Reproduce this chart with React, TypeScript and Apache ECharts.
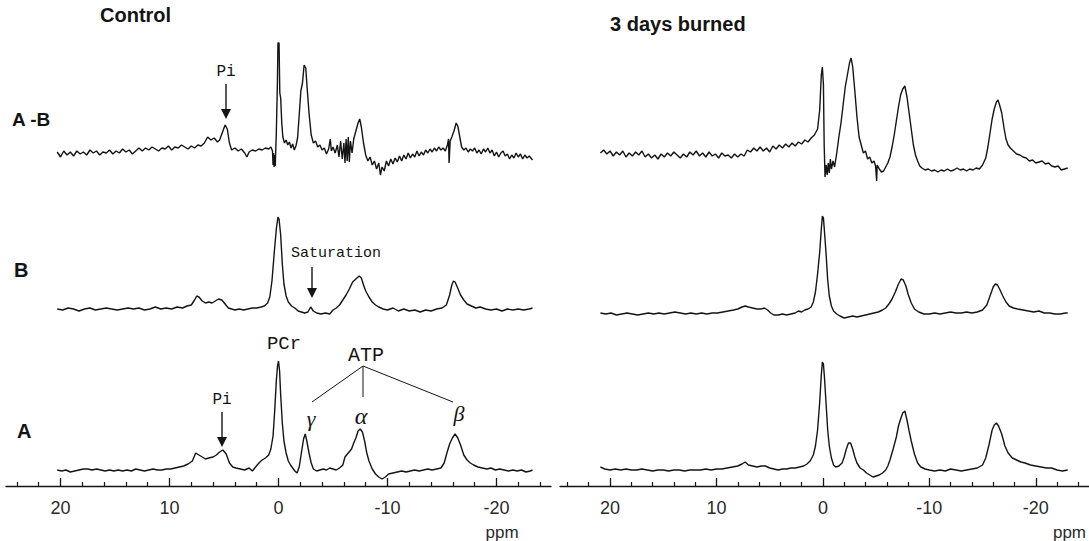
import React, { useEffect, useRef } from 'react';
import * as echarts from 'echarts';

// Tick values (ppm)
const majorTicks = [20, 10, 0, -10, -20];
const minorTicks = [24, 22, 18, 16, 14, 12, 8, 6, 4, 2, -2, -4, -6, -8, -12, -14, -16, -18, -22, -24];

// Control spectra: [ppm, intensity]
const controlAB: number[][] = [
  [20.3, 1], [20.0, -4], [19.7, 2], [19.4, -2], [19.1, 1], [18.8, -3], [18.5, 2], [18.2, -1], [17.9, 1], [17.6, -2], [17.3, 3], [17.0, 0], [16.7, 2], [16.4, -2], [16.1, 1], [15.8, 0], [15.5, 3], [15.2, -1], [14.9, 2], [14.6, 0], [14.3, 4], [14.0, 1], [13.7, 3], [13.4, -1], [13.1, 2], [12.8, 5], [12.5, 2], [12.2, 5], [11.9, 3], [11.6, 6], [11.3, 4], [11.0, 2], [10.7, 5], [10.4, 4], [10.1, 7], [9.8, 3], [9.5, 6], [9.2, 5], [8.9, 8], [8.6, 6], [8.3, 4], [8.0, 7], [7.7, 5], [7.4, 8], [7.1, 7], [6.8, 10], [6.5, 16], [6.2, 13], [5.9, 15], [5.6, 11], [5.4, 13], [5.1, 22], [4.9, 28], [4.7, 24], [4.5, 10], [4.3, 3], [4.0, 5], [3.7, 2], [3.4, 4], [3.1, 0], [2.9, -4], [2.7, 1], [2.4, 3], [2.1, 2], [1.8, 4], [1.5, 3], [1.2, 5], [0.9, 4], [0.7, 6], [0.55, 2], [0.5, -12], [0.45, 0], [0.4, -14], [0.35, -2], [0.3, -13], [0.2, 20], [0.1, 70], [0.05, 110], [-0.05, 110], [-0.12, 60], [-0.2, 55], [-0.3, 30], [-0.4, 16], [-0.55, 10], [-0.7, 13], [-0.85, 8], [-1.0, 11], [-1.15, 5], [-1.3, 9], [-1.45, 3], [-1.6, 7], [-1.75, 15], [-1.9, 38], [-2.05, 62], [-2.2, 70], [-2.35, 88], [-2.5, 85], [-2.65, 62], [-2.8, 40], [-3.0, 18], [-3.2, 10], [-3.4, 12], [-3.6, 6], [-3.8, 8], [-4.0, 3], [-4.2, 5], [-4.4, -1], [-4.6, 4], [-4.75, 14], [-4.85, 2], [-5.0, 6], [-5.2, 0], [-5.4, 8], [-5.55, -4], [-5.7, 12], [-5.85, -6], [-6.0, 10], [-6.1, -10], [-6.2, 14], [-6.3, -8], [-6.4, 16], [-6.5, -9], [-6.6, 12], [-6.75, 0], [-6.9, 14], [-7.1, 22], [-7.3, 30], [-7.45, 34], [-7.6, 26], [-7.8, 10], [-8.0, -2], [-8.2, -8], [-8.4, -4], [-8.6, -12], [-8.8, -8], [-9.0, -16], [-9.2, -10], [-9.35, -22], [-9.5, -14], [-9.7, -18], [-9.9, -8], [-10.1, -13], [-10.3, -6], [-10.5, -11], [-10.7, -5], [-10.9, -9], [-11.1, -3], [-11.3, -8], [-11.5, -2], [-11.7, -6], [-11.9, 0], [-12.1, -5], [-12.3, -1], [-12.5, -4], [-12.7, 2], [-12.9, -3], [-13.1, 1], [-13.3, -2], [-13.5, 3], [-13.7, 0], [-13.9, 4], [-14.1, 1], [-14.3, 5], [-14.5, 2], [-14.7, 6], [-14.9, 3], [-15.1, 5], [-15.3, 2], [-15.5, 8], [-15.6, 14], [-15.65, -10], [-15.75, 12], [-15.9, 16], [-16.1, 22], [-16.3, 30], [-16.45, 27], [-16.6, 18], [-16.8, 6], [-17.0, 3], [-17.2, 5], [-17.4, 1], [-17.6, 4], [-17.8, 2], [-18.0, 5], [-18.2, 0], [-18.4, 3], [-18.6, -1], [-18.8, 4], [-19.0, 1], [-19.2, 5], [-19.4, 0], [-19.6, 3], [-19.8, -3], [-20.0, 1], [-20.2, -4], [-20.4, 0], [-20.6, 2], [-20.8, -3], [-21.0, -1], [-21.2, -6], [-21.4, -2], [-21.6, -5], [-21.8, 0], [-22.0, -4], [-22.2, -1], [-22.4, -6], [-22.6, -2], [-22.8, -5], [-23.0, -3], [-23.3, -7]
];

const controlB: number[][] = [
  [20.3, 0], [19.8, -1], [19.3, 1], [18.8, 0], [18.3, -2], [17.8, 0], [17.3, 1], [16.8, -1], [16.3, 0], [15.8, 1], [15.3, 0], [14.8, -1], [14.3, 0], [13.8, 1], [13.3, 0], [12.8, 1], [12.3, -1], [11.8, 0], [11.3, 2], [10.8, 0], [10.3, 1], [9.8, 0], [9.3, 2], [8.8, 1], [8.4, 3], [8.0, 4], [7.7, 9], [7.5, 13], [7.3, 12], [7.0, 8], [6.7, 6], [6.4, 7], [6.1, 6], [5.8, 8], [5.5, 10], [5.2, 9], [4.9, 5], [4.6, 1], [4.3, 0], [4.0, -1], [3.6, 0], [3.2, -1], [2.8, 0], [2.4, 1], [2.0, 1], [1.6, 2], [1.3, 3], [1.0, 6], [0.8, 12], [0.6, 28], [0.4, 55], [0.2, 80], [0.05, 92], [-0.05, 90], [-0.2, 74], [-0.35, 45], [-0.5, 25], [-0.7, 13], [-0.9, 7], [-1.2, 3], [-1.5, 1], [-1.8, -2], [-2.1, -3], [-2.4, -4], [-2.7, -3], [-2.95, 2], [-3.2, -2], [-3.5, -4], [-3.9, -5], [-4.3, -4], [-4.7, -5], [-5.0, -1], [-5.3, 1], [-5.6, 4], [-5.9, 9], [-6.2, 14], [-6.5, 20], [-6.8, 27], [-7.0, 29], [-7.2, 31], [-7.4, 33], [-7.6, 31], [-7.8, 24], [-8.0, 18], [-8.3, 12], [-8.6, 7], [-8.9, 4], [-9.2, 2], [-9.6, 0], [-10.0, -1], [-10.5, 1], [-11.0, -2], [-11.5, 0], [-12.0, -2], [-12.5, -1], [-13.0, -3], [-13.5, -1], [-14.0, -2], [-14.5, 0], [-15.0, 1], [-15.4, 4], [-15.7, 14], [-15.9, 24], [-16.05, 28], [-16.2, 27], [-16.4, 22], [-16.7, 14], [-17.0, 9], [-17.3, 5], [-17.7, 3], [-18.1, 1], [-18.5, 2], [-19.0, 0], [-19.5, -1], [-20.0, 0], [-20.5, -2], [-21.0, 0], [-21.5, -1], [-22.0, 0], [-22.5, -1], [-23.0, 0], [-23.3, 1]
];

const controlA: number[][] = [
  [20.3, 1], [19.9, 0], [19.5, 1], [19.1, -1], [18.7, 0], [18.3, 1], [17.9, 2], [17.5, 2], [17.1, 1], [16.7, 2], [16.3, 1], [15.9, 0], [15.5, 1], [15.1, 0], [14.7, 1], [14.3, 0], [13.9, 1], [13.5, 0], [13.1, 2], [12.7, 1], [12.3, 0], [11.9, 1], [11.5, 2], [11.1, 1], [10.7, 1], [10.3, 2], [9.9, 2], [9.5, 3], [9.1, 4], [8.7, 5], [8.3, 7], [7.9, 10], [7.6, 18], [7.3, 16], [7.0, 14], [6.7, 12], [6.4, 13], [6.0, 14], [5.7, 16], [5.4, 19], [5.1, 21], [4.8, 17], [4.5, 8], [4.2, 4], [3.9, 3], [3.5, 2], [3.1, 1], [2.7, 3], [2.4, 0], [2.1, 4], [1.8, 8], [1.5, 11], [1.2, 13], [0.9, 16], [0.7, 22], [0.5, 35], [0.35, 60], [0.2, 90], [0.1, 104], [0.0, 110], [-0.1, 100], [-0.2, 76], [-0.35, 48], [-0.5, 30], [-0.7, 18], [-0.9, 10], [-1.1, 6], [-1.3, 3], [-1.5, 0], [-1.7, -2], [-1.9, 4], [-2.1, 18], [-2.3, 32], [-2.45, 37], [-2.6, 30], [-2.8, 18], [-3.0, 8], [-3.2, 2], [-3.5, 0], [-3.8, 1], [-4.1, 2], [-4.4, 1], [-4.7, 3], [-5.0, 2], [-5.3, 1], [-5.6, 3], [-5.9, 6], [-6.1, 14], [-6.4, 18], [-6.7, 22], [-6.9, 28], [-7.1, 33], [-7.3, 40], [-7.5, 42], [-7.7, 39], [-7.9, 30], [-8.1, 18], [-8.3, 10], [-8.6, 2], [-8.9, -3], [-9.2, -6], [-9.5, -8], [-9.8, -6], [-10.1, -3], [-10.5, -2], [-10.9, -1], [-11.3, 0], [-11.7, -1], [-12.1, 0], [-12.5, 1], [-12.9, 0], [-13.3, 1], [-13.7, 2], [-14.1, 1], [-14.5, 2], [-14.9, 3], [-15.2, 8], [-15.45, 18], [-15.7, 27], [-15.95, 33], [-16.2, 37], [-16.45, 33], [-16.7, 26], [-17.0, 16], [-17.3, 11], [-17.6, 8], [-17.9, 6], [-18.3, 4], [-18.7, 3], [-19.1, 2], [-19.5, 3], [-19.9, 1], [-20.3, 2], [-20.7, 1], [-21.1, 0], [-21.5, 1], [-21.9, 0], [-22.3, 1], [-22.7, -1], [-23.1, 0], [-23.3, 1]
];

// 3 days burned spectra: [ppm, intensity]
const burnedAB: number[][] = [
  [20.9, 2], [20.6, 5], [20.3, 1], [20.0, 4], [19.7, -1], [19.4, 3], [19.1, 0], [18.8, 4], [18.5, -2], [18.2, 2], [17.9, -1], [17.6, 3], [17.3, 0], [17.0, 4], [16.7, -2], [16.4, 1], [16.1, -3], [15.8, 0], [15.5, -4], [15.2, 1], [14.9, -2], [14.6, 2], [14.3, -1], [14.0, 3], [13.7, 0], [13.4, -3], [13.1, 1], [12.8, -2], [12.5, 3], [12.2, 0], [11.9, 4], [11.6, -1], [11.3, 2], [11.0, -2], [10.7, 3], [10.4, -1], [10.1, 1], [9.8, -3], [9.5, 2], [9.2, -1], [8.9, 0], [8.6, -3], [8.3, 1], [8.0, -2], [7.7, 1], [7.4, -1], [7.1, 5], [6.8, 3], [6.5, 7], [6.2, 4], [5.9, 8], [5.6, 4], [5.3, 7], [5.0, 3], [4.7, 9], [4.4, 6], [4.1, 10], [3.8, 7], [3.5, 11], [3.2, 8], [2.9, 12], [2.6, 9], [2.3, 13], [2.0, 11], [1.7, 15], [1.4, 13], [1.1, 17], [0.8, 20], [0.5, 26], [0.3, 45], [0.15, 80], [0.05, 88], [-0.05, 70], [-0.12, 10], [-0.2, -22], [-0.3, -10], [-0.4, -20], [-0.5, -8], [-0.6, -18], [-0.7, -4], [-0.8, -14], [-0.95, -6], [-1.1, -12], [-1.3, 2], [-1.5, 18], [-1.7, 32], [-1.9, 50], [-2.1, 68], [-2.3, 80], [-2.5, 92], [-2.65, 97], [-2.8, 88], [-3.0, 64], [-3.2, 38], [-3.4, 18], [-3.6, 10], [-3.8, 2], [-4.0, 4], [-4.2, -4], [-4.4, -2], [-4.6, -8], [-4.8, -6], [-4.95, -11], [-5.05, -26], [-5.1, -10], [-5.3, -14], [-5.5, -17], [-5.7, -16], [-5.9, -12], [-6.1, -8], [-6.3, -2], [-6.5, 8], [-6.7, 20], [-6.9, 34], [-7.1, 48], [-7.3, 60], [-7.5, 66], [-7.7, 69], [-7.9, 58], [-8.1, 42], [-8.3, 26], [-8.5, 10], [-8.7, 0], [-8.9, -6], [-9.1, -11], [-9.3, -13], [-9.6, -15], [-9.9, -14], [-10.2, -16], [-10.5, -15], [-10.8, -17], [-11.1, -15], [-11.4, -16], [-11.7, -14], [-12.0, -16], [-12.3, -15], [-12.6, -13], [-12.9, -15], [-13.2, -14], [-13.5, -16], [-13.8, -14], [-14.1, -15], [-14.4, -13], [-14.7, -14], [-15.0, -10], [-15.3, -3], [-15.5, 8], [-15.7, 22], [-15.9, 36], [-16.1, 46], [-16.3, 53], [-16.45, 55], [-16.6, 50], [-16.8, 42], [-17.0, 28], [-17.2, 16], [-17.4, 10], [-17.6, 7], [-17.8, 5], [-18.0, 3], [-18.2, 1], [-18.5, 0], [-18.8, -2], [-19.1, -3], [-19.4, -6], [-19.7, -5], [-20.0, -8], [-20.3, -7], [-20.6, -6], [-20.9, -9], [-21.2, -8], [-21.5, -11], [-21.8, -12], [-22.1, -11], [-22.4, -15], [-22.7, -14], [-23.0, -13]
];

const burnedB: number[][] = [
  [20.9, 1], [20.4, 0], [19.9, 1], [19.4, -1], [18.9, 0], [18.4, 1], [17.9, 0], [17.4, -1], [16.9, 0], [16.4, 1], [15.9, 0], [15.4, 1], [14.9, 0], [14.4, 1], [13.9, 2], [13.4, 1], [12.9, 0], [12.4, 1], [11.9, 0], [11.4, 1], [10.9, 0], [10.4, 1], [9.9, 1], [9.4, 2], [8.9, 3], [8.4, 4], [8.0, 5], [7.6, 7], [7.3, 8], [7.0, 7], [6.6, 6], [6.2, 5], [5.8, 5], [5.5, 6], [5.2, 4], [4.9, 1], [4.6, -1], [4.2, -1], [3.8, 0], [3.4, -1], [3.0, 0], [2.6, 1], [2.3, 3], [2.0, 2], [1.7, 4], [1.4, 5], [1.1, 7], [0.9, 12], [0.7, 22], [0.5, 40], [0.3, 62], [0.15, 85], [0.05, 98], [-0.05, 96], [-0.15, 82], [-0.3, 60], [-0.45, 34], [-0.6, 18], [-0.8, 8], [-1.0, 3], [-1.3, 0], [-1.6, -2], [-2.0, -4], [-2.4, -3], [-2.8, -2], [-3.2, -3], [-3.6, -2], [-4.0, -1], [-4.4, 0], [-4.8, 1], [-5.2, 2], [-5.6, 4], [-5.9, 6], [-6.2, 10], [-6.5, 15], [-6.8, 22], [-7.1, 30], [-7.35, 35], [-7.55, 34], [-7.8, 28], [-8.0, 20], [-8.3, 11], [-8.6, 5], [-9.0, 2], [-9.5, 0], [-10.0, 0], [-10.5, 1], [-11.0, 0], [-11.5, 1], [-12.0, 2], [-12.5, 1], [-13.0, 1], [-13.5, 2], [-14.0, 1], [-14.5, 2], [-15.0, 4], [-15.4, 9], [-15.7, 18], [-16.0, 27], [-16.2, 30], [-16.4, 29], [-16.6, 25], [-16.9, 18], [-17.2, 12], [-17.5, 8], [-17.9, 6], [-18.3, 5], [-18.8, 4], [-19.3, 3], [-19.8, 2], [-20.3, 3], [-20.8, 1], [-21.3, 1], [-21.8, 0], [-22.3, 0], [-22.8, 1], [-23.0, 1]
];

const burnedA: number[][] = [
  [20.9, 3], [20.5, 1], [20.0, 0], [19.5, 1], [19.0, 0], [18.5, 1], [18.0, 0], [17.5, 0], [17.0, 1], [16.5, 0], [16.0, -1], [15.5, 0], [15.0, 0], [14.5, -1], [14.0, 0], [13.5, 0], [13.0, -1], [12.5, 0], [12.0, 0], [11.5, 0], [11.0, 1], [10.5, 0], [10.0, 1], [9.5, 1], [9.0, 2], [8.5, 3], [8.0, 4], [7.6, 6], [7.3, 8], [7.0, 5], [6.6, 4], [6.2, 3], [5.8, 4], [5.4, 4], [5.0, 2], [4.6, 1], [4.2, 0], [3.8, 1], [3.4, 1], [3.0, 2], [2.6, 2], [2.2, 3], [1.8, 4], [1.5, 6], [1.2, 9], [0.9, 15], [0.7, 24], [0.5, 40], [0.3, 68], [0.15, 95], [0.05, 108], [-0.05, 106], [-0.15, 92], [-0.3, 66], [-0.45, 40], [-0.6, 24], [-0.8, 12], [-1.0, 5], [-1.2, 3], [-1.5, 4], [-1.8, 7], [-2.0, 13], [-2.2, 21], [-2.4, 27], [-2.6, 27], [-2.8, 21], [-3.0, 13], [-3.2, 7], [-3.5, 2], [-3.8, 0], [-4.1, -3], [-4.4, -5], [-4.7, -7], [-5.0, -6], [-5.3, -5], [-5.6, -3], [-5.9, 0], [-6.1, 4], [-6.3, 10], [-6.6, 21], [-6.9, 33], [-7.1, 44], [-7.3, 51], [-7.5, 57], [-7.7, 59], [-7.9, 50], [-8.1, 39], [-8.3, 29], [-8.6, 16], [-8.9, 7], [-9.2, 3], [-9.6, 1], [-10.0, 0], [-10.5, -1], [-11.0, 0], [-11.5, -1], [-12.0, 1], [-12.5, 0], [-13.0, -1], [-13.5, 0], [-14.0, 1], [-14.5, 2], [-15.0, 5], [-15.3, 12], [-15.6, 25], [-15.9, 40], [-16.1, 45], [-16.3, 47], [-16.5, 44], [-16.8, 36], [-17.1, 24], [-17.4, 17], [-17.8, 12], [-18.2, 10], [-18.6, 8], [-19.0, 7], [-19.5, 5], [-20.0, 4], [-20.5, 3], [-21.0, 2], [-21.5, 2], [-22.0, 0], [-22.5, -1], [-23.0, 0]
];

const panelTitles = ['Control', '3 days burned'];
const rowLabels = ['A -B', 'B', 'A'];

const INK = '#141414';

export default function App() {
  const ref = useRef<HTMLDivElement>(null);
  useEffect(() => {
    if (!ref.current) return;
    const chart = echarts.init(ref.current, null, { renderer: 'svg' });

    const leftX = { min: -25, max: 25, left: 6, width: 545 };
    const rightX = { min: -25, max: 24.7, left: 560, width: 542 };
    const leftBase = [153, 309, 471];
    const rightBase = [155, 314, 470];
    const leftSpectra = [controlAB, controlB, controlA];
    const rightSpectra = [burnedAB, burnedB, burnedA];

    const grid: any[] = [
      { left: leftX.left, width: leftX.width, top: 20, height: 466 },
      { left: rightX.left, width: rightX.width, top: 20, height: 466 },
    ];
    const xAxis: any[] = [];
    const yAxis: any[] = [];
    const series: any[] = [];

    const axisPair = (gi: number, r: any) => {
      xAxis.push({
        type: 'value', gridIndex: gi, min: r.min, max: r.max, inverse: true, position: 'bottom',
        axisLine: { show: true, lineStyle: { color: INK, width: 1.3 } },
        axisTick: { show: true, inside: true, length: 8, customValues: majorTicks, lineStyle: { color: INK, width: 1.3 } },
        axisLabel: { show: true, customValues: majorTicks, margin: 13, fontSize: 18, color: '#2a2a2a', fontFamily: 'Liberation Sans' },
        splitLine: { show: false },
      });
      xAxis.push({
        type: 'value', gridIndex: gi, min: r.min, max: r.max, inverse: true, position: 'bottom',
        axisLine: { show: false },
        axisTick: { show: true, inside: true, length: 4, customValues: minorTicks, lineStyle: { color: INK, width: 1.2 } },
        axisLabel: { show: false },
        splitLine: { show: false },
      });
      yAxis.push({ type: 'value', gridIndex: gi, min: 0, max: 1, show: false });
    };
    axisPair(0, leftX);
    axisPair(1, rightX);

    const addSpectra = (r: any, bases: number[], spectra: number[][][]) => {
      spectra.forEach((data, i) => {
        const gi = grid.length;
        grid.push({ left: r.left, width: r.width, top: bases[i] - 120, height: 150 });
        xAxis.push({ type: 'value', gridIndex: gi, min: r.min, max: r.max, inverse: true, show: false });
        yAxis.push({ type: 'value', gridIndex: gi, min: -30, max: 120, show: false });
        series.push({
          type: 'line', xAxisIndex: xAxis.length - 1, yAxisIndex: yAxis.length - 1,
          data, showSymbol: false, symbol: 'none', silent: true,
          lineStyle: { color: INK, width: 1.4 },
        });
      });
    };
    addSpectra(leftX, leftBase, leftSpectra);
    addSpectra(rightX, rightBase, rightSpectra);

    const sans = 'Liberation Sans';
    const mono = 'Liberation Mono';
    const serif = 'Liberation Serif';
    const txt = (text: string, x: number, y: number, font: any, align = 'left') => ({
      type: 'text', x, y, z: 100,
      style: { text, fill: INK, align, verticalAlign: 'middle', ...font },
    });
    const arrow = (x: number, y1: number, y2: number) => ([
      { type: 'line', z: 100, shape: { x1: x, y1, x2: x, y2: y2 - 8 }, style: { stroke: INK, lineWidth: 1.4 } },
      { type: 'polygon', z: 100, shape: { points: [[x - 5, y2 - 10], [x + 5, y2 - 10], [x, y2]] }, style: { fill: INK } },
    ]);

    const graphic: any[] = [
      txt(panelTitles[0], 100, 15, { fontFamily: sans, fontWeight: 'bold', fontSize: 20 }),
      txt(panelTitles[1], 610, 24, { fontFamily: sans, fontWeight: 'bold', fontSize: 20 }),
      txt(rowLabels[0], 12, 119, { fontFamily: sans, fontWeight: 'bold', fontSize: 19 }),
      txt(rowLabels[1], 14, 270, { fontFamily: sans, fontWeight: 'bold', fontSize: 20 }),
      txt(rowLabels[2], 17, 431, { fontFamily: sans, fontWeight: 'bold', fontSize: 20 }),
      txt('Pi', 226, 72, { fontFamily: mono, fontSize: 16 }, 'center'),
      ...arrow(226, 84, 119),
      txt('Saturation', 336, 253, { fontFamily: mono, fontSize: 15 }, 'center'),
      ...arrow(312, 267, 298),
      txt('PCr', 284, 344, { fontFamily: mono, fontSize: 19 }, 'center'),
      txt('ATP', 366, 355, { fontFamily: mono, fontSize: 20 }, 'center'),
      { type: 'line', z: 100, shape: { x1: 363, y1: 366, x2: 312, y2: 402 }, style: { stroke: INK, lineWidth: 1 } },
      { type: 'line', z: 100, shape: { x1: 363, y1: 366, x2: 363, y2: 397 }, style: { stroke: INK, lineWidth: 1 } },
      { type: 'line', z: 100, shape: { x1: 363, y1: 366, x2: 453, y2: 402 }, style: { stroke: INK, lineWidth: 1 } },
      txt('γ', 311, 418, { fontFamily: serif, fontStyle: 'italic', fontSize: 22 }, 'center'),
      txt('α', 361, 416, { fontFamily: serif, fontStyle: 'italic', fontSize: 24 }, 'center'),
      txt('β', 459, 413, { fontFamily: serif, fontStyle: 'italic', fontSize: 22 }, 'center'),
      txt('Pi', 222, 400, { fontFamily: mono, fontSize: 16 }, 'center'),
      ...arrow(222, 412, 447),
      txt('ppm', 502, 532, { fontFamily: sans, fontSize: 17, fill: '#2a2a2a' }, 'center'),
      txt('ppm', 1086, 532, { fontFamily: sans, fontSize: 17, fill: '#2a2a2a' }, 'right'),
    ];

    chart.setOption({
      animation: false,
      backgroundColor: '#ffffff',
      grid, xAxis, yAxis, series, graphic,
    });
    return () => chart.dispose();
  }, []);

  return (
    <div
      ref={ref}
      style={{ position: 'absolute', left: 0, top: 0, width: 1089, height: 541, background: '#fff' }}
    />
  );
}
